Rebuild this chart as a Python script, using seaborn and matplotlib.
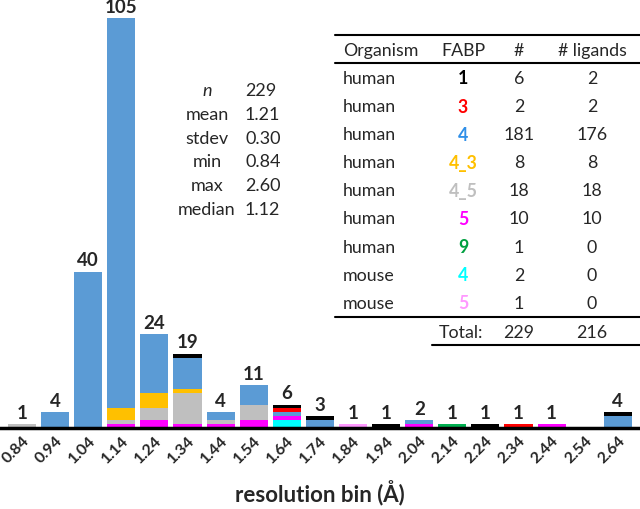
import numpy as np
import pandas as pd
import seaborn as sns
import matplotlib.pyplot as plt
from matplotlib.lines import Line2D

# resolution bins
bins = ['0.84', '0.94', '1.04', '1.14', '1.24', '1.34', '1.44', '1.54', '1.64', '1.74',
        '1.84', '1.94', '2.04', '2.14', '2.24', '2.34', '2.44', '2.54', '2.64']

# counts per FABP type in each bin (stacked bottom -> top)
cyan_m4 = [0, 0, 0, 0, 0, 0, 0, 0, 2, 0, 0, 0, 0, 0, 0, 0, 0, 0, 0]
magenta_5 = [0, 0, 0, 1, 2, 1, 1, 2, 1, 0, 0, 0, 1, 0, 0, 0, 1, 0, 0]
gray_4_5 = [1, 0, 0, 1, 3, 8, 1, 4, 0, 0, 0, 0, 0, 0, 0, 0, 0, 0, 0]
orange_4_3 = [0, 0, 0, 3, 4, 1, 0, 0, 0, 0, 0, 0, 0, 0, 0, 0, 0, 0, 0]
blue_4 = [0, 4, 40, 100, 15, 8, 2, 5, 1, 2, 0, 0, 1, 0, 0, 0, 0, 0, 3]
red_3 = [0, 0, 0, 0, 0, 0, 0, 0, 1, 0, 0, 0, 0, 0, 0, 1, 0, 0, 0]
black_1 = [0, 0, 0, 0, 0, 1, 0, 0, 1, 1, 0, 1, 0, 0, 1, 0, 0, 0, 1]
pink_m5 = [0, 0, 0, 0, 0, 0, 0, 0, 0, 0, 1, 0, 0, 0, 0, 0, 0, 0, 0]
green_9 = [0, 0, 0, 0, 0, 0, 0, 0, 0, 0, 0, 0, 0, 1, 0, 0, 0, 0, 0]

layers = [
    (cyan_m4, '#00FFFF'),
    (magenta_5, '#FF00FF'),
    (gray_4_5, '#BFBFBF'),
    (orange_4_3, '#FFC000'),
    (blue_4, '#5B9BD5'),
    (red_3, '#FF0000'),
    (black_1, '#000000'),
    (pink_m5, '#FF99FF'),
    (green_9, '#00B050'),
]

# summary table
organisms = ['human', 'human', 'human', 'human', 'human', 'human', 'human', 'mouse', 'mouse']
fabp = ['1', '3', '4', '4_3', '4_5', '5', '9', '4', '5']
fabp_colors = ['#000000', '#FF0000', '#2F8FE8', '#FFC000', '#BFBFBF', '#FF00FF',
               '#00A040', '#00FFFF', '#FF99FF']
n_struct = [6, 2, 181, 8, 18, 10, 1, 2, 1]
n_lig = [2, 2, 176, 8, 18, 10, 0, 0, 0]
totals = [229, 216]

stat_names = ['n', 'mean', 'stdev', 'min', 'max', 'median']
stat_vals = ['229', '1.21', '0.30', '0.84', '2.60', '1.12']

sns.set_style('white')
plt.rcParams['font.family'] = ['Lato', 'DejaVu Sans']

W, H = 640, 509
fig = plt.figure(figsize=(6.4, 5.09), dpi=100)
ax = fig.add_axes([0, 81 / H, 1, 423 / H])

bottom = np.zeros(len(bins))
for vals, col in layers:
    sns.barplot(x=bins, y=vals, bottom=bottom.copy(), color=col, saturation=1,
                width=0.85, errorbar=None, ax=ax, linewidth=0)
    bottom += np.array(vals)

ax.set_ylim(0, 108.3)
ax.set_xlim(-0.665, 18.67)
for i, tot in enumerate(bottom):
    if tot > 0:
        ax.text(i, tot + 0.6, f'{int(tot)}', ha='center', va='bottom',
                fontsize=13.5, fontweight='bold')

sns.despine(ax=ax, left=True, top=True, right=True)
ax.spines['bottom'].set_linewidth(2.5)
ax.spines['bottom'].set_color('black')
ax.set_yticks([])
ax.tick_params(axis='x', length=0, pad=4)
for lab in ax.get_xticklabels():
    lab.set_rotation(45)
    lab.set_ha('right')
    lab.set_rotation_mode('anchor')
    lab.set_fontweight('bold')
    lab.set_fontsize(11.5)
ax.set_xlabel('resolution bin (Å)', fontsize=16, fontweight='bold', labelpad=10)


def fx(x):
    return x / W


def fy(y):
    return 1 - y / H


# stats block
for k, (nm, v) in enumerate(zip(stat_names, stat_vals)):
    y = 91 + k * 23.8
    fig.text(fx(207), fy(y), nm, ha='center', va='center', fontsize=13,
             style='italic' if nm == 'n' else 'normal')
    fig.text(fx(245), fy(y), v, ha='left', va='center', fontsize=13)

# table
fig.add_artist(Line2D([fx(335), fx(640)], [fy(35), fy(35)], color='black', lw=1.5))
fig.add_artist(Line2D([fx(335), fx(640)], [fy(63), fy(63)], color='black', lw=1.5))
fig.add_artist(Line2D([fx(335), fx(640)], [fy(317), fy(317)], color='black', lw=1.5))
fig.add_artist(Line2D([fx(432), fx(640)], [fy(345), fy(345)], color='black', lw=1.5))

fs = 12.8
fig.text(fx(343), fy(51), 'Organism', ha='left', va='center', fontsize=fs)
fig.text(fx(463), fy(51), 'FABP', ha='center', va='center', fontsize=fs)
fig.text(fx(519), fy(51), '#', ha='center', va='center', fontsize=fs)
fig.text(fx(592), fy(51), '# ligands', ha='center', va='center', fontsize=fs)
for k in range(len(organisms)):
    y = 79 + k * 28.1
    fig.text(fx(343), fy(y), organisms[k], ha='left', va='center', fontsize=fs)
    fig.text(fx(463), fy(y), fabp[k], ha='center', va='center', fontsize=fs,
             fontweight='bold', color=fabp_colors[k])
    fig.text(fx(519), fy(y), str(n_struct[k]), ha='center', va='center', fontsize=fs)
    fig.text(fx(592), fy(y), str(n_lig[k]), ha='center', va='center', fontsize=fs)
fig.text(fx(461), fy(333), 'Total:', ha='center', va='center', fontsize=fs)
fig.text(fx(519), fy(333), str(totals[0]), ha='center', va='center', fontsize=fs)
fig.text(fx(592), fy(333), str(totals[1]), ha='center', va='center', fontsize=fs)

fig.savefig('out.png', dpi=100)
